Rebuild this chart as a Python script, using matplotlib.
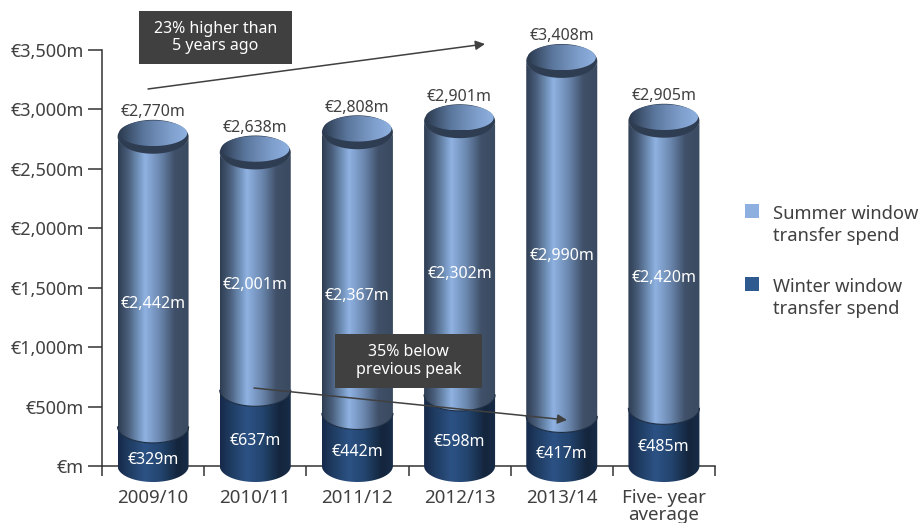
import numpy as np
import matplotlib
matplotlib.use('Agg')
import matplotlib.pyplot as plt
from matplotlib.colors import LinearSegmentedColormap
from matplotlib.patches import Polygon, Rectangle, FancyArrowPatch

plt.rcParams['font.family'] = ['Noto Sans', 'DejaVu Sans']

# dados
temporadas = ['2009/10', '2010/11', '2011/12', '2012/13', '2013/14', 'Five- year\naverage']
verao = [2442, 2001, 2367, 2302, 2990, 2420]
inverno = [329, 637, 442, 598, 417, 485]
totais = [2770, 2638, 2808, 2901, 3408, 2905]
y_ticks = [0, 500, 1000, 1500, 2000, 2500, 3000, 3500]
y_labels = ['€m', '€500m', '€1,000m', '€1,500m', '€2,000m', '€2,500m', '€3,000m', '€3,500m']

W, H = 922, 523
CINZA = '#404040'

cm_verao = LinearSegmentedColormap.from_list('verao', [
    (0, '#2e3d52'), (0.14, '#4a5f7c'), (0.28, '#7090b8'), (0.38, '#8fb2e2'),
    (0.6, '#6a86ad'), (0.8, '#3f5068'), (1, '#3a4a60')])
cm_inverno = LinearSegmentedColormap.from_list('inverno', [
    (0, '#16294a'), (0.15, '#1f3c61'), (0.38, '#2c5285'), (0.6, '#23456f'),
    (0.85, '#14253c'), (1, '#182c48')])
cm_tampa = LinearSegmentedColormap.from_list('tampa', [
    (0, '#2c3b50'), (0.35, '#5a769c'), (0.75, '#7f9fcc'), (1, '#8fb2e2')])

fig = plt.figure(figsize=(W / 100, H / 100), dpi=100)
ax = fig.add_axes([102 / W, 1 - 466 / H, (715 - 102) / W, (466 - 50) / H])

px_x = 613 / 6      # pixels por categoria
px_y = 416 / 3500   # pixels por unidade
rx = 35.5 / px_x
ry = 16 / px_y


def gradiente(patch, cmap, x0, x1, y0, y1, z):
    ax.add_patch(patch)
    patch.set_facecolor('none')
    patch.set_edgecolor('none')
    patch.set_zorder(z)
    g = np.linspace(0, 1, 128).reshape(1, -1)
    im = ax.imshow(g, cmap=cmap, extent=[x0, x1, y0, y1], aspect='auto', zorder=z)
    # a imagem precisa passar do eixo, senao o fundo do cilindro some
    im.set_clip_box(fig.bbox)
    im.set_clip_path(patch)


def corpo(xc, base, topo, cmap, z):
    t = np.linspace(np.pi, 2 * np.pi, 60)
    baixo = np.column_stack([xc + rx * np.cos(t), base + ry * np.sin(t)])
    t2 = t[::-1]
    cima = np.column_stack([xc + rx * np.cos(t2), topo + ry * np.sin(t2)])
    pts = np.vstack([baixo, cima])
    gradiente(Polygon(pts, closed=True, clip_on=False), cmap, xc - rx, xc + rx, base - ry, topo + ry, z)
    if base > 0:
        ax.plot(baixo[:, 0], baixo[:, 1], color='#1c2c42', lw=0.8, zorder=z + 0.1, clip_on=False)


def elipse(xc, yc, a, b, cor=None, cmap=None, z=5):
    t = np.linspace(0, 2 * np.pi, 120)
    pts = np.column_stack([xc + a * np.cos(t), yc + b * np.sin(t)])
    if cmap is None:
        ax.add_patch(Polygon(pts, closed=True, facecolor=cor, edgecolor='none', zorder=z, clip_on=False))
    else:
        gradiente(Polygon(pts, closed=True, clip_on=False), cmap, xc - a, xc + a, yc - b, yc + b, z)


for i in range(len(temporadas)):
    inv = inverno[i]
    tot = totais[i]
    corpo(i, 0, inv, cm_inverno, 2)
    corpo(i, inv, tot, cm_verao, 3)
    elipse(i, tot, rx, ry * 1.06, cor='#2f3d52', z=4)
    elipse(i, tot + 3.5 / px_y, rx * 0.96, ry * 0.8, cmap=cm_tampa, z=5)

    ax.annotate(f'€{tot:,}m', (i, tot), xytext=(0, 24.5 * 0.72), textcoords='offset points',
                ha='center', va='center', fontsize=11.5, color=CINZA, zorder=8,
                annotation_clip=False)

ax.set_xlim(-0.5, 5.5)
ax.set_ylim(0, 3500)

# rotulos internos
y_verao = [304, 285, 296, 274, 256, 278]
y_inverno = [460, 441, 452, 442, 454, 447]
for i in range(len(temporadas)):
    ax.text(i, (466 - y_verao[i]) / px_y, f'€{verao[i]:,}m', ha='center', va='center',
            fontsize=11.5, color='white', zorder=8, clip_on=False)
    ax.text(i, (466 - y_inverno[i]) / px_y, f'€{inverno[i]}m', ha='center', va='center',
            fontsize=11.5, color='white', zorder=8, clip_on=False)

# eixos
for lado in ['top', 'right']:
    ax.spines[lado].set_visible(False)
for lado in ['left', 'bottom']:
    ax.spines[lado].set_color('#333333')
    ax.spines[lado].set_linewidth(1.1)
    ax.spines[lado].set_zorder(1)
ax.set_axisbelow(True)
ax.set_yticks(y_ticks)
ax.set_yticklabels(y_labels, fontsize=13, color=CINZA)
ax.set_xticks(np.arange(-0.5, 6, 1))
ax.set_xticklabels([])
ax.tick_params(axis='y', length=10, width=1.1, color='#333333', pad=3)
ax.tick_params(axis='x', length=7.5, width=1.1, color='#333333')
for i, nome in enumerate(temporadas):
    ax.annotate(nome, (i, 0), xytext=(0, -23 * 0.72), textcoords='offset points',
                ha='center', va='top', fontsize=13.5, color=CINZA, linespacing=0.93,
                annotation_clip=False)


def fp(x, y):
    return (x / W, 1 - y / H)


# caixas de texto
for x0, y0, x1, y1, txt in [(139, 11, 292, 64, '23% higher than\n5 years ago'),
                            (335, 334, 482, 388, '35% below\nprevious peak')]:
    fig.add_artist(Rectangle(fp(x0, y1), (x1 - x0) / W, (y1 - y0) / H, transform=fig.transFigure,
                             facecolor=CINZA, edgecolor='none', zorder=10))
    fig.text((x0 + x1) / 2 / W, 1 - (y0 + y1) / 2 / H, txt, ha='center', va='center',
             fontsize=11.5, color='white', zorder=11, linespacing=1.15)

# setas
for ini, fim in [((148, 89), (485, 44)), ((254, 388), (567, 420))]:
    fig.add_artist(FancyArrowPatch(
        fp(*ini), fp(*fim), transform=fig.transFigure, arrowstyle='-|>', mutation_scale=14,
        color=CINZA, lw=1.1, shrinkA=0, shrinkB=0, zorder=12))

# legenda
for y0, cor, txt in [(204, '#8db0e0', 'Summer window\ntransfer spend'),
                     (277, '#2f5a90', 'Winter window\ntransfer spend')]:
    fig.add_artist(Rectangle(fp(745, y0 + 14), 14 / W, 14 / H, transform=fig.transFigure,
                             facecolor=cor, edgecolor='none'))
    fig.text(773 / W, 1 - (y0 + 1) / H, txt, ha='left', va='top', fontsize=13.2,
             color=CINZA, linespacing=1.27)

fig.savefig('out.png', dpi=100)
